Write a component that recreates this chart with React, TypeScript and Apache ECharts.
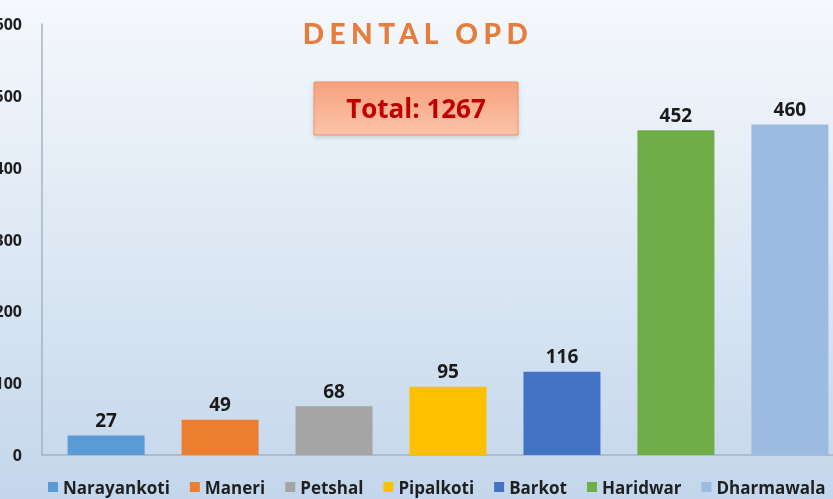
import React, { useEffect, useRef } from "react";
import * as echarts from "echarts";

const categories = ["Narayankoti", "Maneri", "Petshal", "Pipalkoti", "Barkot", "Haridwar", "Dharmawala"];
const values = [27, 49, 68, 95, 116, 452, 460];
const colors = ["#5b9bd5", "#ed7d31", "#a5a5a5", "#ffc000", "#4472c4", "#70ad47", "#9bbbe1"];
const yTicks = { min: 0, max: 600, interval: 100 };
const titleText = "DENTAL OPD";
const totalText = "Total: 1267";

const FONT = "'Open Sans', 'Noto Sans', sans-serif";

export default function App() {
  const ref = useRef<HTMLDivElement>(null);
  useEffect(() => {
    if (!ref.current) return;
    const chart = echarts.init(ref.current, undefined, { renderer: "svg" });
    const series = categories.map((name, i) => ({
      name,
      type: "bar",
      data: [values[i]],
      barWidth: 77,
      barGap: "48%",
      itemStyle: { color: colors[i] },
      label: {
        show: true,
        position: "top",
        distance: 6,
        fontSize: 19,
        fontWeight: "bold",
        fontFamily: FONT,
        color: "#1a1a1a",
      },
    }));
    chart.setOption({
      animation: false,
      graphic: [
        {
          type: "rect",
          z: -10,
          silent: true,
          shape: { x: 0, y: 0, width: 833, height: 499 },
          style: {
            fill: new echarts.graphic.LinearGradient(0, 0, 0, 1, [
              { offset: 0, color: "#f5f8fc" },
              { offset: 0.5, color: "#dde8f4" },
              { offset: 1, color: "#c3d6eb" },
            ]),
          },
        },
        {
          type: "text",
          x: 418,
          y: 33,
          z: 10,
          style: {
            text: titleText,
            fill: "#e47d3e",
            font: "900 28px Lato, 'Open Sans', sans-serif",
            textAlign: "center",
            textVerticalAlign: "middle",
          },
        },
        {
          type: "rect",
          z: 10,
          shape: { x: 314, y: 82, width: 204, height: 53 },
          style: {
            fill: new echarts.graphic.LinearGradient(0, 0, 0, 1, [
              { offset: 0, color: "#f7a07f" },
              { offset: 1, color: "#fbc4a8" },
            ]),
            stroke: "#e8906c",
            lineWidth: 1,
            shadowColor: "rgba(0,0,0,0.15)",
            shadowBlur: 4,
            shadowOffsetY: 2,
          },
        },
        {
          type: "text",
          x: 416,
          y: 108,
          z: 11,
          style: {
            text: totalText,
            fill: "#c00000",
            font: "bold 26px " + FONT,
            textAlign: "center",
            textVerticalAlign: "middle",
          },
        },
      ],
      legend: {
        data: categories,
        left: 48,
        top: 477,
        padding: 0,
        itemWidth: 10,
        itemHeight: 10,
        itemGap: 20,
        icon: "rect",
        textStyle: { fontSize: 17, fontWeight: "bold", fontFamily: FONT, color: "#1f1f1f", lineHeight: 20 },
      },
      grid: { left: 42, top: 24, width: 812, height: 431, containLabel: false, outerBoundsMode: "none" },
      xAxis: {
        type: "category",
        data: [""],
        axisLine: { show: true, lineStyle: { color: "#a3b3c4", width: 1.5 } },
        axisTick: { show: false },
        axisLabel: { show: false },
      },
      yAxis: {
        type: "value",
        min: yTicks.min,
        max: yTicks.max,
        interval: yTicks.interval,
        axisLine: { show: true, lineStyle: { color: "#a3b3c4", width: 1.5 } },
        axisTick: { show: false },
        splitLine: { show: false },
        axisLabel: {
          margin: 20,
          fontSize: 16,
          fontWeight: "bold",
          fontFamily: FONT,
          color: "#1f1f1f",
        },
      },
      series,
    });
    const texts = ref.current.querySelectorAll("text");
    texts.forEach((t) => {
      if (t.textContent === titleText) {
        t.setAttribute("letter-spacing", "5.5px");
      }
    });
    return () => chart.dispose();
  }, []);
  return <div ref={ref} style={{ position: "fixed", left: 0, top: 0, width: 833, height: 499 }} />;
}
